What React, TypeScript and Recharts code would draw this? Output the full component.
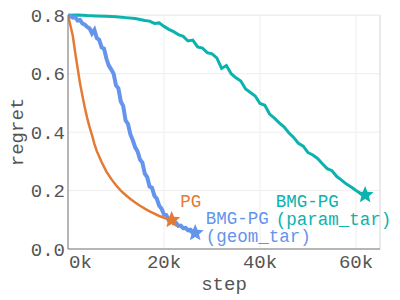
import { LineChart, Line, XAxis, YAxis, CartesianGrid, ReferenceDot, ReferenceLine } from "recharts";

const FONT = "'Liberation Mono', 'Courier New', monospace";
const PG_COLOR = "#e57a35";
const GEOM_COLOR = "#6494ec";
const PARAM_COLOR = "#0bb2ae";

// PG (smooth decay)
const pgSteps = [0, 500, 1000, 1500, 2000, 2500, 3000, 3500, 4000, 4500, 5000, 5500, 6000, 7000, 8000, 9000, 10000, 11000, 12000, 13000, 14000, 15000, 16000, 17000, 18000, 19000, 20000, 21000, 21600];
const pgRegret = [0.8, 0.765, 0.73, 0.672, 0.62, 0.567, 0.525, 0.484, 0.448, 0.417, 0.39, 0.36, 0.335, 0.298, 0.265, 0.24, 0.218, 0.2, 0.185, 0.171, 0.159, 0.148, 0.138, 0.129, 0.121, 0.113, 0.107, 0.102, 0.099];

// BMG-PG (geom_tar), noisy
const geomSteps = [0, 500, 1000, 1500, 2000, 2500, 3000, 3500, 4000, 4500, 5000, 5500, 6000, 6500, 7000, 7500, 8000, 8500, 9000, 9500, 10000, 10500, 11000, 11500, 12000, 12500, 13000, 13500, 14000, 14500, 15000, 15500, 16000, 16500, 17000, 17500, 18000, 18500, 19000, 19500, 20000, 20500, 21000, 21500, 22000, 22500, 23000, 23500, 24000, 24500, 25000, 25500, 26000, 26500];
const geomRegret = [0.8, 0.797, 0.792, 0.794, 0.782, 0.784, 0.772, 0.768, 0.76, 0.755, 0.738, 0.75, 0.722, 0.716, 0.69, 0.686, 0.652, 0.628, 0.615, 0.6, 0.56, 0.55, 0.505, 0.49, 0.44, 0.428, 0.392, 0.372, 0.348, 0.334, 0.306, 0.296, 0.258, 0.246, 0.214, 0.21, 0.182, 0.172, 0.148, 0.138, 0.118, 0.116, 0.098, 0.1, 0.088, 0.09, 0.079, 0.08, 0.071, 0.072, 0.064, 0.066, 0.058, 0.055];

// BMG-PG (param_tar)
const paramSteps = [0, 2000, 4000, 6000, 8000, 10000, 12000, 14000, 16000, 17000, 18000, 19000, 20000, 21000, 22000, 23000, 24000, 25000, 26000, 27000, 28000, 29000, 30000, 31000, 32000, 33000, 34000, 35000, 36000, 37000, 38000, 39000, 40000, 41000, 42000, 43000, 44000, 45000, 46000, 47000, 48000, 49000, 50000, 51000, 52000, 53000, 54000, 55000, 56000, 57000, 58000, 59000, 60000, 61000, 61900];
const paramRegret = [0.8, 0.801, 0.799, 0.798, 0.797, 0.795, 0.792, 0.789, 0.782, 0.78, 0.772, 0.774, 0.762, 0.752, 0.744, 0.734, 0.728, 0.712, 0.715, 0.692, 0.688, 0.672, 0.668, 0.654, 0.618, 0.628, 0.6, 0.586, 0.575, 0.548, 0.536, 0.524, 0.498, 0.492, 0.462, 0.448, 0.432, 0.418, 0.398, 0.382, 0.362, 0.352, 0.33, 0.322, 0.31, 0.292, 0.275, 0.268, 0.248, 0.236, 0.222, 0.212, 0.2, 0.19, 0.185];

const xTicks = [0, 20000, 40000, 60000];
const yTicks = [0, 0.2, 0.4, 0.6, 0.8];

const pgData = pgSteps.map((s, i) => ({ step: s, regret: pgRegret[i] }));
const geomData = geomSteps.map((s, i) => ({ step: s, regret: geomRegret[i] }));
const paramData = paramSteps.map((s, i) => ({ step: s, regret: paramRegret[i] }));

const ends = [
  { step: 21600, regret: 0.099, color: PG_COLOR },
  { step: 26500, regret: 0.055, color: GEOM_COLOR },
  { step: 61900, regret: 0.185, color: PARAM_COLOR },
];

const notes = [
  { step: 23400, regret: 0.144, lines: ["PG"], color: PG_COLOR },
  { step: 28700, regret: 0.086, lines: ["BMG-PG", "(geom_tar)"], color: GEOM_COLOR },
  { step: 43300, regret: 0.144, lines: ["BMG-PG", "(param_tar)"], color: PARAM_COLOR },
];

function starPoints(cx: number, cy: number, ro: number, ri: number) {
  const pts: string[] = [];
  for (let i = 0; i < 10; i++) {
    const r = i % 2 === 0 ? ro : ri;
    const a = -Math.PI / 2 + (i * Math.PI) / 5;
    pts.push(`${cx + r * Math.cos(a)},${cy + r * Math.sin(a)}`);
  }
  return pts.join(" ");
}

const XTick = ({ x, y, payload }: any) => {
  const first = payload.value === 0;
  return (
    <text x={first ? x + 1 : x} y={y} dy={11} textAnchor={first ? "start" : "middle"} fontFamily={FONT} fontSize={19} fill="#555">
      {payload.value / 1000}k
    </text>
  );
};

const YTick = ({ x, y, payload }: any) => (
  <text x={x + 5} y={y} dy={6.5} textAnchor="end" fontFamily={FONT} fontSize={19} fill="#555">
    {payload.value.toFixed(1)}
  </text>
);

export default function App() {
  return (
    <div style={{ position: "absolute", left: 0, top: 0, background: "#fff" }}>
      <LineChart width={400} height={300} margin={{ top: 15, right: 20, bottom: 0, left: 0 }}>
        <CartesianGrid stroke="#eeeeee" strokeWidth={1} />
        <ReferenceLine x={65000} stroke="#dddddd" ifOverflow="visible" />
        <XAxis
          type="number"
          dataKey="step"
          domain={[0, 65000]}
          ticks={xTicks}
          allowDataOverflow
          height={51}
          stroke="#777"
          tickLine={false}
          tick={<XTick />}
          label={{
            content: ({ viewBox }: any) => (
              <text x={viewBox.x + viewBox.width / 2} y={290} textAnchor="middle" fontFamily={FONT} fontSize={19} fill="#555">
                step
              </text>
            ),
          }}
        />
        <YAxis
          type="number"
          domain={[0, 0.8]}
          ticks={yTicks}
          width={68}
          stroke="#777"
          tickLine={false}
          tick={<YTick />}
          label={{
            content: ({ viewBox }: any) => {
              const cy = viewBox.y + viewBox.height / 2;
              return (
                <text x={17} y={cy} transform={`rotate(-90, 17, ${cy})`} dy={6} textAnchor="middle" fontFamily={FONT} fontSize={19} fill="#555">
                  regret
                </text>
              );
            },
          }}
        />
        <Line data={paramData} dataKey="regret" stroke={PARAM_COLOR} strokeWidth={3} dot={false} type="linear" isAnimationActive={false} />
        <Line data={geomData} dataKey="regret" stroke={GEOM_COLOR} strokeWidth={4} dot={false} type="linear" isAnimationActive={false} />
        <Line data={pgData} dataKey="regret" stroke={PG_COLOR} strokeWidth={2.5} dot={false} type="linear" isAnimationActive={false} />
        {ends.map((e) => (
          <ReferenceDot
            key={e.color}
            x={e.step}
            y={e.regret}
            ifOverflow="visible"
            shape={(p: any) => <polygon points={starPoints(p.cx, p.cy, 9, 4)} fill={e.color} />}
          />
        ))}
        {notes.map((n) => (
          <ReferenceDot
            key={n.lines.join()}
            x={n.step}
            y={n.regret}
            ifOverflow="visible"
            shape={(p: any) => (
              <text x={p.cx} y={p.cy} fontFamily={FONT} fontSize={17.5} fill={n.color}>
                {n.lines.map((l, i) => (
                  <tspan key={l} x={p.cx} dy={i === 0 ? 0 : 18.5}>
                    {l}
                  </tspan>
                ))}
              </text>
            )}
          />
        ))}
      </LineChart>
    </div>
  );
}
